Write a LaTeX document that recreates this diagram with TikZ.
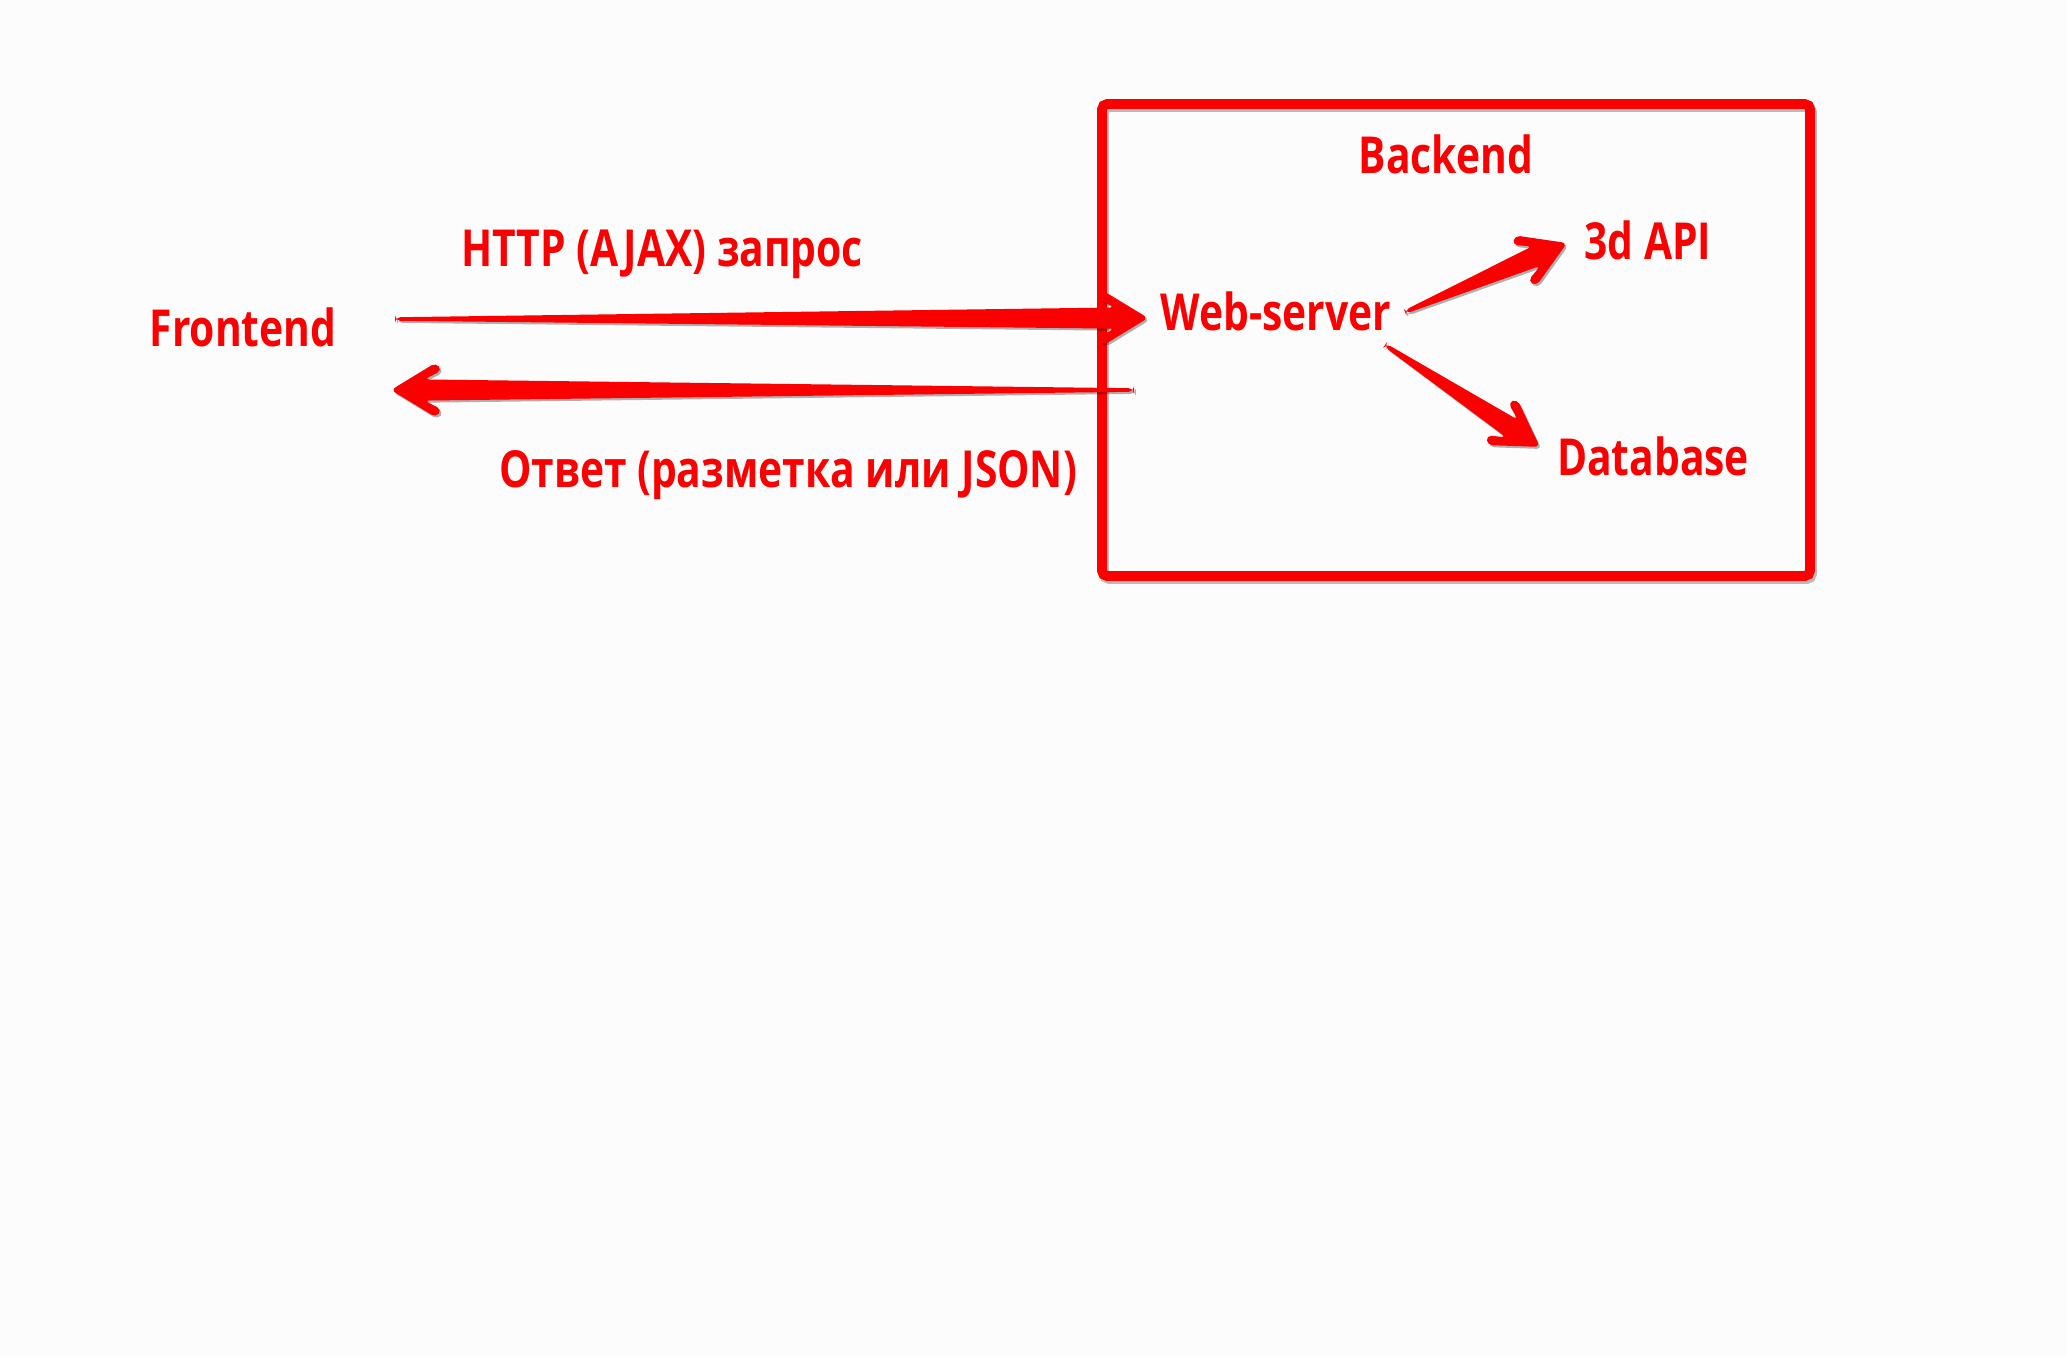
\documentclass[tikz,border=0pt]{standalone}
\usepackage{fontspec}
\newfontfamily\skfont{Open Sans}[FakeStretch=0.8]
\usetikzlibrary{calc,shadows}

\definecolor{skred}{RGB}{250,0,0}
\definecolor{skshade}{RGB}{185,185,185}

\tikzset{
  sklabel/.style={font=\skfont\bfseries\fontsize{14.5}{16}\selectfont, text=skred, inner sep=0pt},
  skarrowfill/.style={fill=skred, rounded corners=1.5pt,
    drop shadow={shadow xshift=.5pt, shadow yshift=-.6pt, opacity=.3, fill=black}},
}

% tapered arrow from one named coordinate to another
\newcommand\skarrow[2]{%
  \pgfpointdiff{\pgfpointanchor{#1}{center}}{\pgfpointanchor{#2}{center}}%
  \pgfgetlastxy{\skdx}{\skdy}%
  \pgfmathsetmacro\sklen{veclen(\skdx,\skdy)}%
  \pgfmathsetmacro\skang{atan2(\skdy,\skdx)}%
  \fill[skarrowfill, shift={(#1)}, rotate=\skang]
    (0,-0.5pt) -- ({\sklen pt-9.5pt},-3pt) -- ({\sklen pt-14.5pt},-5.6pt)
    -- ({\sklen pt-12.8pt},-7.8pt) -- (\sklen pt,0pt) -- ({\sklen pt-12.8pt},7.8pt)
    -- ({\sklen pt-14.5pt},5.6pt) -- ({\sklen pt-9.5pt},3pt) -- (0,0.5pt) -- cycle;}

\begin{document}
\begin{tikzpicture}[x=0.01cm, y=-0.01cm]
  \fill[white!99!black] (0,0) rectangle (2067,1357);
  \useasboundingbox (0,0) rectangle (2067,1357);

  % backend frame with its faint shadow
  \draw[skshade, line width=2.8pt, rounded corners=1.5pt] (1104,107) rectangle (1812,579);
  \draw[skred, line width=2.8pt, rounded corners=1.5pt] (1102,104) rectangle (1810,576);

  \node[sklabel] (backend)  at (1446,154) {Backend};
  \node[sklabel] (webserver) at (1276,311) {Web-server};
  \node[sklabel] (api)      at (1648,240) {3d API};
  \node[sklabel] (database) at (1653,456) {Database};
  \node[sklabel] (frontend) at (243,327) {Frontend};
  \node[sklabel] (request)  at (662,254) {HTTP (AJAX) запрос};
  \node[sklabel] (response) at (788,475) {Ответ (разметка или JSON)};

  \coordinate (req-from) at (395,319);
  \coordinate (req-to)   at (1148,318);
  \coordinate (res-from) at (1134,390);
  \coordinate (res-to)   at (391,390);
  \coordinate (api-from) at (1405,312);
  \coordinate (api-to)   at (1567,243);
  \coordinate (db-from)  at (1385,345);
  \coordinate (db-to)    at (1540,447);

  \skarrow{req-from}{req-to}
  \skarrow{res-from}{res-to}
  \skarrow{api-from}{api-to}
  \skarrow{db-from}{db-to}
\end{tikzpicture}
\end{document}
